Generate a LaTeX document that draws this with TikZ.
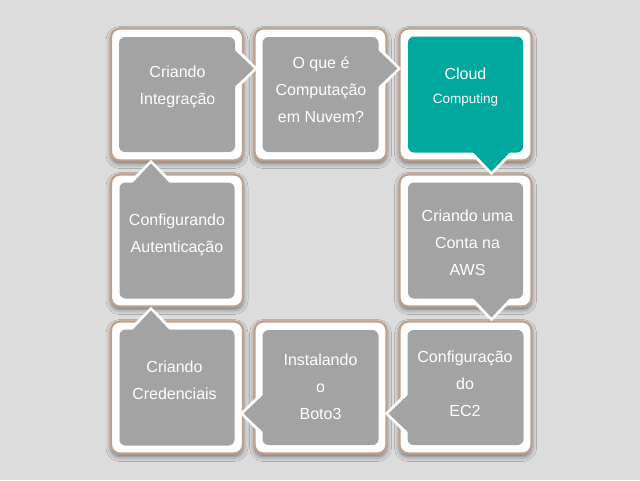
\documentclass[tikz,border=0pt]{standalone}
\usepackage{fontspec}
\setmainfont{Liberation Sans}
\usetikzlibrary{shadows.blur}
\definecolor{slidebg}{RGB}{220,220,220}
\definecolor{framerim}{RGB}{190,160,140}
\definecolor{boxgray}{RGB}{163,163,163}
\definecolor{boxteal}{RGB}{0,168,158}
\tikzset{
	frame/.style={draw=framerim, line width=2.2pt, fill=white, rounded corners=9pt,
		blur shadow={shadow xshift=0pt, shadow yshift=-3pt, shadow blur radius=5pt, shadow opacity=50}},
	steptext/.style={text=white, align=center, font=\fontsize{16}{27}\selectfont}
}
\begin{document}
\begin{tikzpicture}[x=1pt, y=-1pt]
			\useasboundingbox (0,0) rectangle (640,480);
			% slide background
			\fill[slidebg] (0,0) rectangle (640,480);
			% frames
			\foreach \cx/\cy in {177/94.5, 320.5/94.5, 465.5/94.5, 465.5/240.5, 465.5/387.5, 320.5/387.5, 177/387.5, 177/240.5}
				\draw[frame] (\cx-66,\cy-66) rectangle (\cx+66,\cy+66);
			% callouts
			\foreach \cx/\cy/\ang/\col in {177/94.5/0/boxgray, 320.5/94.5/0/boxgray, 465.5/94.5/-90/boxteal, 465.5/240.5/-90/boxgray, 465.5/387.5/-180/boxgray, 320.5/387.5/-180/boxgray, 177/387.5/90/boxgray, 177/240.5/90/boxgray}{
				\begin{scope}[shift={(\cx,\cy)}, rotate=\ang]
					\draw[white, line width=5pt] (56,-47) -- (77,-26) -- (56,-5);
					\fill[\col] (56,-46) -- (77,-26) -- (56,-6) -- cycle;
					\fill[\col, rounded corners=6pt] (-58,-57.5) rectangle (58,57.5);
				\end{scope}
			}
			% texts
			\node[steptext] (integ) at (177.5,86.5) {Criando\\Integração};
			\node[steptext] (nuvem) at (321,89.5) {O que é\\Computação\\em Nuvem?};
			\node[steptext] (cloud) at (465.5,86.8) {Cloud\\[-3pt]{\fontsize{13.5}{24}\selectfont Computing}};
			\node[steptext] (conta) at (467.5,242.3) {Criando uma\\Conta na\\AWS};
			\node[steptext] (ec2) at (465,383.6) {Configuração\\do\\EC2};
			\node[steptext] (boto) at (320.5,386.3) {Instalando\\o\\Boto3};
			\node[steptext] (cred) at (174.5,380.7) {Criando\\Credenciais};
			\node[steptext] (auth) at (177,235.2) {Configurando\\Autenticação};
\end{tikzpicture}
\end{document}
